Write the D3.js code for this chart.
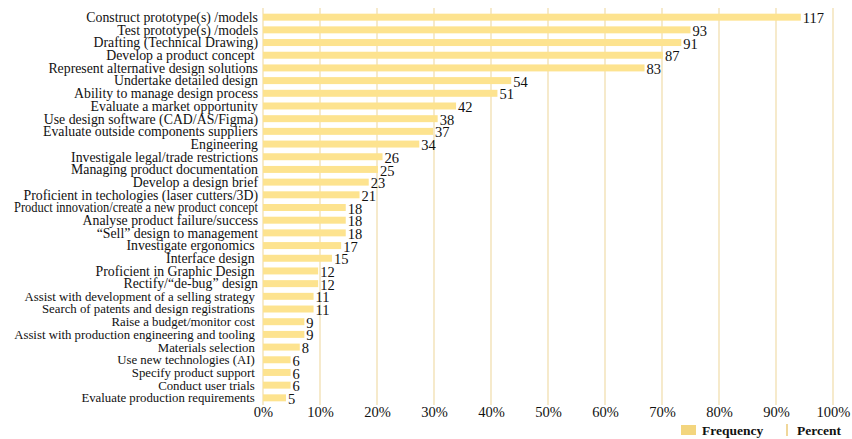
<!DOCTYPE html>
<html><head><meta charset="utf-8">
<script src="https://cdn.jsdelivr.net/npm/d3@7"></script>
<style>body{margin:0;background:#fff}svg{display:block}text{font-family:"Liberation Serif","Times New Roman",serif;fill:#111}</style>
</head><body><svg id="c" width="852" height="439"></svg>
<script>
const categories = ["Construct prototype(s) /models","Test prototype(s) /models","Drafting (Technical Drawing)","Develop a product concept ","Represent alternative design solutions","Undertake detailed design","Ability to manage design process","Evaluate a market opportunity","Use design software (CAD/AS/Figma)","Evaluate outside components suppliers","Engineering","Investigale legal/trade restrictions","Managing product documentation","Develop a design brief","Proficient in techologies (laser cutters/3D)","Product innovation/create a new product concept","Analyse product failure/success","\u201cSell\u201d design to management","Investigate ergonomics ","Interface design ","Proficient in Graphic Design ","Rectify/\u201cde-bug\u201d design","Assist with development of a selling strategy ","Search of patents and design registrations ","Raise a budget/monitor cost ","Assist with production engineering and tooling ","Materials selection ","Use new technologies (AI) ","Specify product support ","Conduct user trials ","Evaluate production requirements "];
const frequency = [117,93,91,87,83,54,51,42,38,37,34,26,25,23,21,18,18,18,17,15,12,12,11,11,9,9,8,6,6,6,5];
const totalRespondents = 124;
const percentTicks = [0,10,20,30,40,50,60,70,80,90,100];
const legendItems = ["Frequency","Percent"];

const svg = d3.select("#c");
const x = d3.scaleLinear().domain([0,100]).range([263,833]);
const y = d3.scaleBand().domain(categories).range([10.5,404.5]).paddingInner(0.45).paddingOuter(0.25);

// gridlines
svg.append("g").selectAll("line").data(percentTicks).join("line")
  .attr("x1",d=>x(d)).attr("x2",d=>x(d)).attr("y1",8).attr("y2",405)
  .attr("stroke","#f1dfb0").attr("stroke-width",1.3);

// bars
svg.append("g").selectAll("rect").data(frequency).join("rect")
  .attr("x",x(0)).attr("y",(d,i)=>y(categories[i]))
  .attr("width",d=>x(d/totalRespondents*100)-x(0)).attr("height",y.bandwidth())
  .attr("fill","#fde38f");

// value labels
svg.append("g").selectAll("text").data(frequency).join("text")
  .attr("x",d=>x(d/totalRespondents*100)+2).attr("y",(d,i)=>y(categories[i])+y.bandwidth()/2+1)
  .attr("dy","0.35em").attr("font-size",14.5).text(d=>d);

// category axis labels
const maxW = 244;
svg.append("g").selectAll("text").data(categories).join("text")
  .attr("x",258).attr("y",d=>y(d)+y.bandwidth()/2).attr("dy","0.35em")
  .attr("text-anchor","end").attr("font-size",(d,i)=>i<22?13.8:12.8).style("white-space","pre").text(d=>d)
  .each(function(){
    const w = this.getComputedTextLength();
    if (w > maxW) d3.select(this).attr("textLength",maxW).attr("lengthAdjust","spacingAndGlyphs");
  });

// x axis
const xAxis = d3.axisBottom(x).tickValues(percentTicks).tickFormat(d=>d+"%").tickSize(0).tickPadding(0);
const gx = svg.append("g").attr("transform","translate(0,407)").call(xAxis);
gx.select(".domain").remove();
gx.selectAll("text").attr("font-size",14.5).attr("fill","#111").attr("font-family","Liberation Serif, serif").attr("dy","0.71em");

// legend
const lg = svg.append("g");
lg.append("rect").attr("x",681).attr("y",425).attr("width",15).attr("height",10).attr("fill","#f3d57e");
lg.append("text").attr("x",702).attr("y",435).attr("font-size",13.5).attr("font-weight","bold").text(legendItems[0]);
lg.append("line").attr("x1",787).attr("x2",787).attr("y1",424).attr("y2",436).attr("stroke","#f0d79a").attr("stroke-width",2);
lg.append("text").attr("x",797).attr("y",435).attr("font-size",13.5).attr("font-weight","bold").text(legendItems[1]);
</script></body></html>
